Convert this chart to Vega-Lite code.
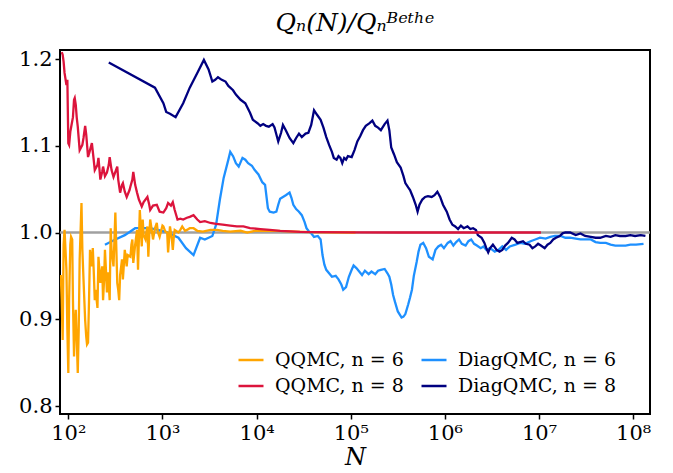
{
  "$schema": "https://vega.github.io/schema/vega-lite/v6.json",
  "width": 590,
  "height": 364,
  "autosize": "none",
  "padding": {"left": 60, "top": 50, "right": 23, "bottom": 59},
  "background": "white",
  "config": {
    "view": {"stroke": "black", "strokeWidth": 2},
    "font": "DejaVu Serif"
  },
  "title": {"text": "Qₙ(N)/Qₙᴮᵉᵗʰᵉ", "font": "DejaVu Serif", "fontSize": 25, "fontStyle": "italic", "fontWeight": "normal", "color": "black", "offset": 12, "anchor": "middle"},
  "datasets": {
    "ref": [{"v": 1.0}],
    "q6": [
      {"N": 83.2, "v": 0.951}, {"N": 85.1, "v": 0.922}, {"N": 87.1, "v": 0.876}, {"N": 89.1, "v": 0.986}, {"N": 91.2, "v": 1.003},
      {"N": 95.5, "v": 0.957}, {"N": 97.7, "v": 0.888}, {"N": 100, "v": 0.838}, {"N": 102, "v": 0.922}, {"N": 105, "v": 0.986},
      {"N": 107, "v": 0.995}, {"N": 110, "v": 0.992}, {"N": 112, "v": 0.922}, {"N": 115, "v": 0.857}, {"N": 117, "v": 0.888},
      {"N": 120, "v": 0.911}, {"N": 123, "v": 0.876}, {"N": 126, "v": 0.838}, {"N": 129, "v": 0.888}, {"N": 132, "v": 0.969},
      {"N": 138, "v": 1.034}, {"N": 141, "v": 0.980}, {"N": 145, "v": 0.946}, {"N": 148, "v": 0.922}, {"N": 151, "v": 0.899},
      {"N": 155, "v": 0.880}, {"N": 158, "v": 0.871}, {"N": 162, "v": 0.873}, {"N": 166, "v": 0.922}, {"N": 170, "v": 0.980},
      {"N": 174, "v": 0.969}, {"N": 178, "v": 0.961}, {"N": 182, "v": 0.982}, {"N": 186, "v": 0.957}, {"N": 191, "v": 0.922},
      {"N": 195, "v": 0.934}, {"N": 204, "v": 0.913}, {"N": 209, "v": 0.972}, {"N": 214, "v": 0.957}, {"N": 219, "v": 0.942},
      {"N": 224, "v": 0.951}, {"N": 229, "v": 0.961}, {"N": 234, "v": 0.922}, {"N": 240, "v": 0.946}, {"N": 245, "v": 0.980},
      {"N": 251, "v": 0.957}, {"N": 257, "v": 0.931}, {"N": 263, "v": 0.954}, {"N": 269, "v": 0.940}, {"N": 275, "v": 0.922},
      {"N": 282, "v": 1.005}, {"N": 288, "v": 0.980}, {"N": 302, "v": 0.961}, {"N": 309, "v": 0.992}, {"N": 316, "v": 1.023},
      {"N": 324, "v": 0.980}, {"N": 331, "v": 0.942}, {"N": 339, "v": 0.934}, {"N": 347, "v": 0.922}, {"N": 355, "v": 0.951},
      {"N": 372, "v": 0.969}, {"N": 380, "v": 0.946}, {"N": 389, "v": 0.963}, {"N": 398, "v": 0.980}, {"N": 407, "v": 0.971},
      {"N": 417, "v": 0.961}, {"N": 427, "v": 0.974}, {"N": 457, "v": 0.972}, {"N": 468, "v": 0.986}, {"N": 479, "v": 0.992},
      {"N": 490, "v": 0.965}, {"N": 513, "v": 0.986}, {"N": 537, "v": 1.003}, {"N": 550, "v": 0.957}, {"N": 562, "v": 0.992},
      {"N": 575, "v": 1.026}, {"N": 589, "v": 1.003}, {"N": 603, "v": 0.984}, {"N": 617, "v": 1.015}, {"N": 631, "v": 0.997},
      {"N": 661, "v": 0.992}, {"N": 676, "v": 1.001}, {"N": 692, "v": 1.007}, {"N": 708, "v": 0.972}, {"N": 724, "v": 0.997},
      {"N": 741, "v": 1.015}, {"N": 776, "v": 1.000}, {"N": 794, "v": 0.992}, {"N": 832, "v": 1.005}, {"N": 871, "v": 1.011},
      {"N": 891, "v": 1.001}, {"N": 933, "v": 0.995}, {"N": 1000, "v": 1.008}, {"N": 1023, "v": 1.007}, {"N": 1072, "v": 1.001},
      {"N": 1122, "v": 1.000}, {"N": 1148, "v": 0.977}, {"N": 1175, "v": 0.992}, {"N": 1202, "v": 1.007}, {"N": 1259, "v": 0.992},
      {"N": 1288, "v": 0.980}, {"N": 1318, "v": 0.994}, {"N": 1349, "v": 1.003}, {"N": 1479, "v": 1.000}, {"N": 1549, "v": 1.003},
      {"N": 1622, "v": 1.007}, {"N": 1738, "v": 1.002}, {"N": 1820, "v": 1.003}, {"N": 1950, "v": 1.005}, {"N": 2138, "v": 1.005},
      {"N": 2344, "v": 1.002}, {"N": 2692, "v": 1.001}, {"N": 3236, "v": 1.003}, {"N": 3802, "v": 1.003}, {"N": 4365, "v": 1.002},
      {"N": 5248, "v": 1.001}, {"N": 6761, "v": 1.002}, {"N": 7943, "v": 1.000}, {"N": 9550, "v": 1.002}, {"N": 12300, "v": 1.002},
      {"N": 15850, "v": 1.002}, {"N": 19950, "v": 1.0015}, {"N": 25700, "v": 1.001}, {"N": 37150, "v": 1.0005}, {"N": 60260, "v": 1.0002},
      {"N": 112200, "v": 1.0}
    ],
    "q8": [
      {"N": 85.1, "v": 1.208}, {"N": 87.1, "v": 1.205}, {"N": 89.1, "v": 1.197}, {"N": 91.2, "v": 1.184}, {"N": 95.5, "v": 1.170},
      {"N": 97.7, "v": 1.176}, {"N": 100, "v": 1.103}, {"N": 102, "v": 1.101}, {"N": 105, "v": 1.116}, {"N": 107, "v": 1.121},
      {"N": 112, "v": 1.133}, {"N": 115, "v": 1.153}, {"N": 117, "v": 1.155}, {"N": 120, "v": 1.147}, {"N": 123, "v": 1.132},
      {"N": 126, "v": 1.122}, {"N": 132, "v": 1.095}, {"N": 141, "v": 1.101}, {"N": 145, "v": 1.109}, {"N": 151, "v": 1.123},
      {"N": 155, "v": 1.113}, {"N": 162, "v": 1.087}, {"N": 170, "v": 1.095}, {"N": 178, "v": 1.103}, {"N": 186, "v": 1.084},
      {"N": 191, "v": 1.072}, {"N": 204, "v": 1.078}, {"N": 209, "v": 1.086}, {"N": 219, "v": 1.061}, {"N": 229, "v": 1.070},
      {"N": 234, "v": 1.076}, {"N": 245, "v": 1.065}, {"N": 257, "v": 1.069}, {"N": 269, "v": 1.078}, {"N": 275, "v": 1.087},
      {"N": 288, "v": 1.072}, {"N": 302, "v": 1.064}, {"N": 316, "v": 1.070}, {"N": 331, "v": 1.076}, {"N": 339, "v": 1.061},
      {"N": 355, "v": 1.046}, {"N": 372, "v": 1.055}, {"N": 380, "v": 1.057}, {"N": 398, "v": 1.047}, {"N": 417, "v": 1.041},
      {"N": 447, "v": 1.049}, {"N": 457, "v": 1.053}, {"N": 479, "v": 1.061}, {"N": 490, "v": 1.070}, {"N": 513, "v": 1.055},
      {"N": 537, "v": 1.046}, {"N": 562, "v": 1.038}, {"N": 603, "v": 1.030}, {"N": 631, "v": 1.035}, {"N": 692, "v": 1.041},
      {"N": 724, "v": 1.032}, {"N": 741, "v": 1.026}, {"N": 794, "v": 1.031}, {"N": 871, "v": 1.032}, {"N": 933, "v": 1.024},
      {"N": 1023, "v": 1.023}, {"N": 1096, "v": 1.028}, {"N": 1148, "v": 1.034}, {"N": 1230, "v": 1.031}, {"N": 1288, "v": 1.035},
      {"N": 1349, "v": 1.026}, {"N": 1445, "v": 1.015}, {"N": 1549, "v": 1.016}, {"N": 1660, "v": 1.015}, {"N": 1820, "v": 1.017},
      {"N": 1950, "v": 1.018}, {"N": 2138, "v": 1.020}, {"N": 2344, "v": 1.015}, {"N": 2512, "v": 1.012}, {"N": 2818, "v": 1.013},
      {"N": 3236, "v": 1.011}, {"N": 3715, "v": 1.010}, {"N": 4365, "v": 1.009}, {"N": 5248, "v": 1.008}, {"N": 6166, "v": 1.007},
      {"N": 7244, "v": 1.007}, {"N": 8511, "v": 1.005}, {"N": 10960, "v": 1.004}, {"N": 13800, "v": 1.003}, {"N": 17780, "v": 1.002},
      {"N": 22910, "v": 1.0014}, {"N": 28840, "v": 1.0008}, {"N": 47860, "v": 1.0005}, {"N": 100000, "v": 1.0002}, {"N": 338800, "v": 1.0},
      {"N": 1148000, "v": 1.0}, {"N": 3890000, "v": 1.0}, {"N": 10470000, "v": 1.0}
    ],
    "d6": [
      {"N": 245, "v": 0.986}, {"N": 316, "v": 0.992}, {"N": 398, "v": 0.997}, {"N": 513, "v": 1.005}, {"N": 741, "v": 1.005},
      {"N": 1072, "v": 1.001}, {"N": 1479, "v": 0.994}, {"N": 1778, "v": 0.982}, {"N": 2138, "v": 0.974}, {"N": 2512, "v": 0.994},
      {"N": 2818, "v": 0.992}, {"N": 3388, "v": 0.996}, {"N": 3715, "v": 1.009}, {"N": 4074, "v": 1.038}, {"N": 4467, "v": 1.063},
      {"N": 5012, "v": 1.084}, {"N": 5248, "v": 1.093}, {"N": 5623, "v": 1.088}, {"N": 6026, "v": 1.080}, {"N": 6457, "v": 1.076},
      {"N": 7079, "v": 1.086}, {"N": 7586, "v": 1.084}, {"N": 8128, "v": 1.080}, {"N": 8913, "v": 1.077}, {"N": 9550, "v": 1.072},
      {"N": 10470, "v": 1.067}, {"N": 11480, "v": 1.058}, {"N": 12300, "v": 1.055}, {"N": 13180, "v": 1.028}, {"N": 13800, "v": 1.024},
      {"N": 15140, "v": 1.023}, {"N": 16220, "v": 1.024}, {"N": 16980, "v": 1.032}, {"N": 17780, "v": 1.039}, {"N": 19050, "v": 1.041},
      {"N": 20420, "v": 1.043}, {"N": 22390, "v": 1.046}, {"N": 23440, "v": 1.040}, {"N": 24550, "v": 1.032}, {"N": 26300, "v": 1.027},
      {"N": 28180, "v": 1.024}, {"N": 30200, "v": 1.020}, {"N": 32360, "v": 1.012}, {"N": 33880, "v": 1.005}, {"N": 35480, "v": 1.002},
      {"N": 38020, "v": 0.999}, {"N": 40740, "v": 0.995}, {"N": 44670, "v": 0.996}, {"N": 47860, "v": 0.992}, {"N": 50120, "v": 0.974},
      {"N": 52480, "v": 0.963}, {"N": 54950, "v": 0.957}, {"N": 58880, "v": 0.953}, {"N": 63100, "v": 0.949}, {"N": 69180, "v": 0.950},
      {"N": 74130, "v": 0.946}, {"N": 79430, "v": 0.940}, {"N": 83180, "v": 0.934}, {"N": 89130, "v": 0.937}, {"N": 95500, "v": 0.949},
      {"N": 102300, "v": 0.957}, {"N": 107200, "v": 0.962}, {"N": 114800, "v": 0.959}, {"N": 123000, "v": 0.955}, {"N": 131800, "v": 0.951},
      {"N": 141300, "v": 0.956}, {"N": 154900, "v": 0.952}, {"N": 166000, "v": 0.955}, {"N": 182000, "v": 0.952}, {"N": 195000, "v": 0.956},
      {"N": 208900, "v": 0.957}, {"N": 229100, "v": 0.958}, {"N": 245500, "v": 0.953}, {"N": 257000, "v": 0.949}, {"N": 269200, "v": 0.940},
      {"N": 281800, "v": 0.928}, {"N": 295100, "v": 0.920}, {"N": 316200, "v": 0.909}, {"N": 346700, "v": 0.902}, {"N": 363100, "v": 0.903},
      {"N": 380200, "v": 0.906}, {"N": 407400, "v": 0.917}, {"N": 426600, "v": 0.925}, {"N": 446700, "v": 0.934}, {"N": 467700, "v": 0.950},
      {"N": 501200, "v": 0.966}, {"N": 524800, "v": 0.978}, {"N": 549500, "v": 0.986}, {"N": 588800, "v": 0.988}, {"N": 631000, "v": 0.982},
      {"N": 676100, "v": 0.972}, {"N": 741300, "v": 0.969}, {"N": 794300, "v": 0.980}, {"N": 851100, "v": 0.984}, {"N": 912000, "v": 0.986},
      {"N": 977200, "v": 0.982}, {"N": 1072000, "v": 0.988}, {"N": 1148000, "v": 0.990}, {"N": 1230000, "v": 0.985}, {"N": 1318000, "v": 0.989},
      {"N": 1413000, "v": 0.992}, {"N": 1514000, "v": 0.987}, {"N": 1660000, "v": 0.985}, {"N": 1778000, "v": 0.990}, {"N": 1905000, "v": 0.992},
      {"N": 2042000, "v": 0.987}, {"N": 2188000, "v": 0.985}, {"N": 2399000, "v": 0.982}, {"N": 2570000, "v": 0.984}, {"N": 2754000, "v": 0.980},
      {"N": 3020000, "v": 0.982}, {"N": 3388000, "v": 0.978}, {"N": 3715000, "v": 0.980}, {"N": 4074000, "v": 0.984}, {"N": 4467000, "v": 0.980},
      {"N": 4898000, "v": 0.984}, {"N": 5623000, "v": 0.986}, {"N": 6310000, "v": 0.988}, {"N": 7079000, "v": 0.987}, {"N": 8128000, "v": 0.990},
      {"N": 9120000, "v": 0.992}, {"N": 10230000, "v": 0.994}, {"N": 11750000, "v": 0.993}, {"N": 13180000, "v": 0.995}, {"N": 14790000, "v": 0.996},
      {"N": 16980000, "v": 0.996}, {"N": 19050000, "v": 0.994}, {"N": 21380000, "v": 0.994}, {"N": 24550000, "v": 0.993}, {"N": 27540000, "v": 0.992},
      {"N": 30900000, "v": 0.992}, {"N": 35480000, "v": 0.992}, {"N": 39810000, "v": 0.989}, {"N": 44670000, "v": 0.988}, {"N": 51290000, "v": 0.988},
      {"N": 57540000, "v": 0.986}, {"N": 64570000, "v": 0.985}, {"N": 72440000, "v": 0.985}, {"N": 83180000, "v": 0.985}, {"N": 93330000, "v": 0.986},
      {"N": 107200000, "v": 0.986}, {"N": 128800000, "v": 0.987}
    ],
    "d8": [
      {"N": 269, "v": 1.196}, {"N": 832, "v": 1.167}, {"N": 1023, "v": 1.149}, {"N": 1096, "v": 1.139}, {"N": 1202, "v": 1.137},
      {"N": 1380, "v": 1.133}, {"N": 1660, "v": 1.149}, {"N": 1950, "v": 1.167}, {"N": 2344, "v": 1.184}, {"N": 2754, "v": 1.199},
      {"N": 3090, "v": 1.188}, {"N": 3388, "v": 1.174}, {"N": 3631, "v": 1.176}, {"N": 3890, "v": 1.179}, {"N": 4266, "v": 1.176},
      {"N": 4677, "v": 1.174}, {"N": 5012, "v": 1.169}, {"N": 5623, "v": 1.164}, {"N": 6026, "v": 1.159}, {"N": 6761, "v": 1.153},
      {"N": 7586, "v": 1.149}, {"N": 8511, "v": 1.138}, {"N": 9120, "v": 1.130}, {"N": 10230, "v": 1.126}, {"N": 10960, "v": 1.123},
      {"N": 11750, "v": 1.125}, {"N": 12590, "v": 1.123}, {"N": 13490, "v": 1.122}, {"N": 14790, "v": 1.125}, {"N": 15490, "v": 1.121},
      {"N": 16220, "v": 1.113}, {"N": 16980, "v": 1.105}, {"N": 18200, "v": 1.115}, {"N": 19050, "v": 1.124}, {"N": 20420, "v": 1.118},
      {"N": 22390, "v": 1.109}, {"N": 24550, "v": 1.103}, {"N": 26300, "v": 1.109}, {"N": 28180, "v": 1.114}, {"N": 30200, "v": 1.110},
      {"N": 33110, "v": 1.114}, {"N": 35480, "v": 1.115}, {"N": 38020, "v": 1.124}, {"N": 40740, "v": 1.141}, {"N": 43650, "v": 1.136},
      {"N": 47860, "v": 1.130}, {"N": 51290, "v": 1.121}, {"N": 54950, "v": 1.110}, {"N": 58880, "v": 1.101}, {"N": 63100, "v": 1.093},
      {"N": 66070, "v": 1.086}, {"N": 70790, "v": 1.084}, {"N": 74130, "v": 1.088}, {"N": 77620, "v": 1.086}, {"N": 81280, "v": 1.080},
      {"N": 85110, "v": 1.086}, {"N": 89130, "v": 1.084}, {"N": 93330, "v": 1.088}, {"N": 102300, "v": 1.087}, {"N": 109600, "v": 1.095},
      {"N": 117500, "v": 1.105}, {"N": 125900, "v": 1.111}, {"N": 134900, "v": 1.118}, {"N": 144500, "v": 1.123}, {"N": 158500, "v": 1.126},
      {"N": 169800, "v": 1.129}, {"N": 182000, "v": 1.123}, {"N": 195000, "v": 1.121}, {"N": 208900, "v": 1.118}, {"N": 229100, "v": 1.125},
      {"N": 245500, "v": 1.129}, {"N": 257000, "v": 1.118}, {"N": 269200, "v": 1.098}, {"N": 288400, "v": 1.090}, {"N": 309000, "v": 1.081},
      {"N": 338800, "v": 1.075}, {"N": 363100, "v": 1.065}, {"N": 380200, "v": 1.057}, {"N": 407400, "v": 1.052}, {"N": 426600, "v": 1.049},
      {"N": 457100, "v": 1.041}, {"N": 489800, "v": 1.032}, {"N": 512900, "v": 1.024}, {"N": 537000, "v": 1.032}, {"N": 575400, "v": 1.038},
      {"N": 616600, "v": 1.041}, {"N": 660700, "v": 1.042}, {"N": 724400, "v": 1.041}, {"N": 776200, "v": 1.043}, {"N": 831800, "v": 1.047},
      {"N": 891300, "v": 1.041}, {"N": 955000, "v": 1.032}, {"N": 1047000, "v": 1.024}, {"N": 1122000, "v": 1.015}, {"N": 1202000, "v": 1.009},
      {"N": 1288000, "v": 1.007}, {"N": 1380000, "v": 1.004}, {"N": 1479000, "v": 1.008}, {"N": 1585000, "v": 1.005}, {"N": 1738000, "v": 1.007},
      {"N": 1862000, "v": 1.004}, {"N": 1995000, "v": 1.005}, {"N": 2138000, "v": 1.003}, {"N": 2239000, "v": 0.997}, {"N": 2455000, "v": 0.994},
      {"N": 2630000, "v": 0.988}, {"N": 2754000, "v": 0.982}, {"N": 2884000, "v": 0.977}, {"N": 3020000, "v": 0.982}, {"N": 3236000, "v": 0.986},
      {"N": 3548000, "v": 0.980}, {"N": 3802000, "v": 0.978}, {"N": 4074000, "v": 0.980}, {"N": 4365000, "v": 0.985}, {"N": 4677000, "v": 0.988},
      {"N": 5129000, "v": 0.994}, {"N": 5495000, "v": 0.992}, {"N": 5888000, "v": 0.988}, {"N": 6310000, "v": 0.989}, {"N": 6761000, "v": 0.990},
      {"N": 7244000, "v": 0.987}, {"N": 7943000, "v": 0.986}, {"N": 8511000, "v": 0.982}, {"N": 9120000, "v": 0.984}, {"N": 9772000, "v": 0.987},
      {"N": 10470000, "v": 0.985}, {"N": 11480000, "v": 0.982}, {"N": 12300000, "v": 0.986}, {"N": 13180000, "v": 0.988}, {"N": 14130000, "v": 0.992},
      {"N": 15140000, "v": 0.994}, {"N": 16600000, "v": 0.996}, {"N": 17780000, "v": 0.999}, {"N": 19050000, "v": 1.000}, {"N": 21380000, "v": 1.000},
      {"N": 24550000, "v": 0.997}, {"N": 27540000, "v": 0.999}, {"N": 30900000, "v": 0.996}, {"N": 35480000, "v": 0.995}, {"N": 39810000, "v": 0.994},
      {"N": 44670000, "v": 0.994}, {"N": 51290000, "v": 0.996}, {"N": 57540000, "v": 0.995}, {"N": 64570000, "v": 0.997}, {"N": 72440000, "v": 0.996},
      {"N": 83180000, "v": 0.996}, {"N": 93330000, "v": 0.997}, {"N": 104700000, "v": 0.996}, {"N": 120200000, "v": 0.997}, {"N": 134900000, "v": 0.996}
    ]
  },
  "layer": [
    {
      "data": {"name": "ref"},
      "mark": {"type": "rule", "color": "#a0a0a0", "strokeWidth": 2.5},
      "encoding": {
        "y": {"field": "v", "type": "quantitative", "scale": {"domain": [0.7908, 1.2104], "nice": false, "zero": false}}
      }
    },
    {
      "data": {"name": "d6"},
      "mark": {"type": "line", "strokeWidth": 2.3, "clip": true},
      "encoding": {
        "x": {"field": "N", "type": "quantitative", "scale": {"type": "log", "domain": [81.6, 150900000], "nice": false},
          "axis": {"values": [100, 1000, 10000, 100000, 1000000, 10000000, 100000000],
            "labelExpr": "'10' + ['⁰','¹','²','³','⁴','⁵','⁶','⁷','⁸'][round(log(datum.value)/LN10)]",
            "grid": false, "domain": false, "tickColor": "black", "tickWidth": 1.5, "tickSize": 5,
            "labelFont": "DejaVu Serif", "labelFontSize": 21, "labelColor": "black", "labelPadding": 3,
            "title": "N", "titleFont": "DejaVu Serif", "titleFontStyle": "italic", "titleFontWeight": "normal", "titleFontSize": 24, "titleColor": "black", "titlePadding": 2}},
        "y": {"field": "v", "type": "quantitative", "scale": {"domain": [0.7908, 1.2104], "nice": false, "zero": false},
          "axis": {"values": [0.8, 0.9, 1.0, 1.1, 1.2], "format": ".1f", "grid": false, "domain": false,
            "tickColor": "black", "tickWidth": 1.5, "tickSize": 5,
            "labelFont": "DejaVu Serif", "labelFontSize": 21, "labelColor": "black", "labelPadding": 3, "title": null}},
        "color": {"datum": "DiagQMC, n = 6", "type": "nominal",
          "scale": {"domain": ["QQMC, n = 6", "QQMC, n = 8", "DiagQMC, n = 6", "DiagQMC, n = 8"], "range": ["#FFA500", "#DC143C", "#1E90FF", "#000080"]},
          "legend": {"title": null, "orient": "none", "legendX": 177, "legendY": 296, "columns": 2, "padding": 0,
            "labelFont": "DejaVu Serif", "labelFontSize": 19, "labelColor": "black", "labelOffset": 10,
            "symbolType": "stroke", "symbolSize": 625, "symbolStrokeWidth": 2.5, "columnPadding": 12, "rowPadding": 2}}
      }
    },
    {
      "data": {"name": "d8"},
      "mark": {"type": "line", "strokeWidth": 2.3, "clip": true},
      "encoding": {
        "x": {"field": "N", "type": "quantitative"},
        "y": {"field": "v", "type": "quantitative"},
        "color": {"datum": "DiagQMC, n = 8", "type": "nominal"}
      }
    },
    {
      "data": {"name": "q6"},
      "mark": {"type": "line", "strokeWidth": 2.3, "clip": true},
      "encoding": {
        "x": {"field": "N", "type": "quantitative"},
        "y": {"field": "v", "type": "quantitative"},
        "color": {"datum": "QQMC, n = 6", "type": "nominal"}
      }
    },
    {
      "data": {"name": "q8"},
      "mark": {"type": "line", "strokeWidth": 2.3, "clip": true},
      "encoding": {
        "x": {"field": "N", "type": "quantitative"},
        "y": {"field": "v", "type": "quantitative"},
        "color": {"datum": "QQMC, n = 8", "type": "nominal"}
      }
    }
  ]
}
